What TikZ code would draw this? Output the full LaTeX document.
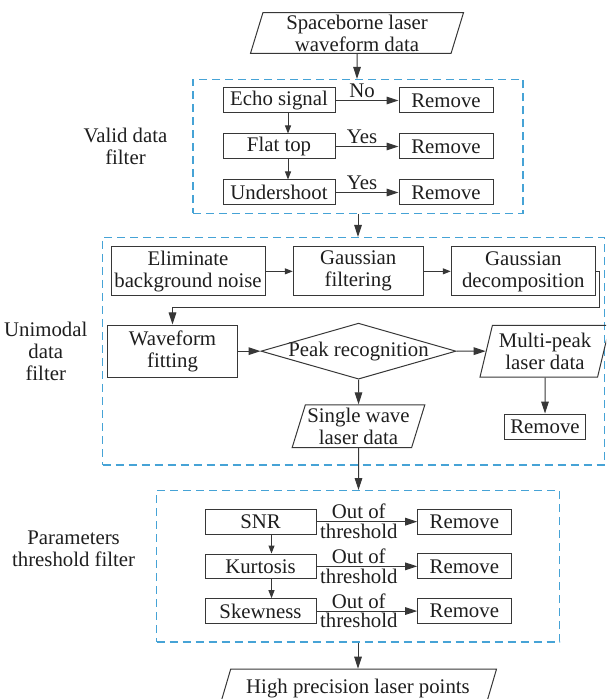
\documentclass[tikz,border=0pt]{standalone}
\usepackage{fontspec}
\setmainfont{Liberation Serif}
\usetikzlibrary{shapes.geometric, arrows.meta, positioning, fit}
\definecolor{linegray}{RGB}{55,55,55}
\definecolor{textgray}{RGB}{30,30,30}
\definecolor{frameblue}{RGB}{70,163,214}

\begin{document}
\begin{tikzpicture}[
    x=0.5pt, y=-0.5pt,
    every node/.style={font=\fontsize{10.4}{11}\selectfont, text=textgray},
    box/.style={rectangle, draw=linegray, line width=0.5pt, inner sep=0pt, align=center},
    crit/.style={box, minimum width=56pt, minimum height=12.5pt},
    rmbox/.style={box, minimum width=47pt, minimum height=12.5pt},
    dataio/.style={trapezium, trapezium left angle=#1, trapezium right angle={180-#1},
        trapezium stretches body, draw=linegray, line width=0.5pt, inner sep=1pt, align=center},
    dataio/.default=73,
    decision/.style={diamond, draw=linegray, line width=0.5pt, inner sep=0pt,
        minimum width=97.5pt, minimum height=28pt},
    frame/.style={rectangle, draw=frameblue, line width=0.6pt, dash pattern=on 4pt off 2.5pt, inner sep=0pt},
    arrow/.style={-{Triangle[length=6pt, width=3.8pt]}, draw=linegray, line width=0.5pt},
    sarrow/.style={-{Triangle[length=4pt, width=3pt]}, draw=linegray, line width=0.5pt},
    lbl/.style={inner sep=1pt}
]
    \useasboundingbox (0,0) rectangle (606,699);
    \clip (0,0) rectangle (606,699);

    % input data
    \node[dataio, minimum width=106.5pt, minimum height=20pt] (src) at (357,33) {Spaceborne laser\\waveform data};

    % valid data filter
    \node[crit] (echo) at (279,100.5) {Echo signal};
    \node[crit, below=10pt of echo] (flat) {Flat top};
    \node[crit, below=10pt of flat] (under) {Undershoot};
    \node[rmbox, right=31.5pt of echo] (rmecho) {Remove};
    \node[rmbox, right=31.5pt of flat] (rmflat) {Remove};
    \node[rmbox, right=31.5pt of under] (rmunder) {Remove};
    \node[frame, fit=(echo)(rmecho)(under)(rmunder), inner xsep=14.75pt, inner ysep=4pt] (validframe) {};
    \node[align=center, left=9pt of validframe] (validlbl) {Valid data\\filter};

    \draw[arrow] (src) -- (src |- validframe.north);
    \draw[arrow] (echo) -- node[lbl, above, pos=0.42] {No} (rmecho);
    \draw[arrow] (flat) -- node[lbl, above, pos=0.42] {Yes} (rmflat);
    \draw[arrow] (under) -- node[lbl, above, pos=0.42] {Yes} (rmunder);
    \draw[sarrow] ([xshift=4.5pt]echo.south) -- ([xshift=4.5pt]flat.north);
    \draw[sarrow] ([xshift=4.5pt]flat.south) -- ([xshift=4.5pt]under.north);

    % unimodal data filter
    \node[frame, minimum width=251pt, minimum height=113.75pt] (uniframe) at (353.5,351.25) {};
    \node[box, minimum width=77pt, minimum height=24.65pt] (elim) at (188,271.35) {Eliminate\\background noise};
    \node[box, minimum width=64.85pt, minimum height=24.65pt, right=13.65pt of elim] (gfilt) {Gaussian\\filtering};
    \node[box, minimum width=72pt, minimum height=24.65pt, right=13.65pt of gfilt] (gdec) {Gaussian\\decomposition};
    \node[box, minimum width=64.8pt, minimum height=26.15pt] (wave) at (172.5,351.15) {Waveform\\fitting};
    \node[decision, right=11.35pt of wave] (peak) {\makebox[0pt]{Peak recognition}};
    \node[dataio, minimum width=65pt, minimum height=25.85pt, right=14.6pt of peak] (multi) {Multi-peak\\laser data};
    \node[dataio=72, minimum width=64.85pt, minimum height=21.35pt, below=12.35pt of peak] (single) {Single wave\\laser data};
    \node[box, minimum width=40.8pt, minimum height=12.8pt, below=18pt of multi] (rmmulti) {Remove};
    \node[align=center, left=3.75pt of uniframe] (unilbl) {Unimodal\\data\\filter};

    \draw[arrow] (validframe.south) -- (validframe.south |- uniframe.north);
    \draw[sarrow] (elim) -- (gfilt);
    \draw[sarrow] (gfilt) -- (gdec);
    \draw[arrow] (gdec.east) -- ++(3.5,0) -- ++(0,36.4) -| (wave.north);
    \draw[arrow] (wave) -- (peak);
    \draw[arrow] (peak) -- (multi);
    \draw[arrow] (peak) -- (single);
    \draw[arrow] (multi) -- (rmmulti);

    % parameters threshold filter
    \node[box, minimum width=55.5pt, minimum height=12.35pt] (snr) at (260.5,521.65) {SNR};
    \node[box, minimum width=55.5pt, minimum height=12.35pt, below=9.5pt of snr] (kurt) {Kurtosis};
    \node[box, minimum width=55.5pt, minimum height=12.35pt, below=9.5pt of kurt] (skew) {Skewness};
    \node[rmbox, minimum width=46.65pt, right=50.35pt of snr] (rmsnr) {Remove};
    \node[rmbox, minimum width=46.65pt, right=50.35pt of kurt] (rmkurt) {Remove};
    \node[rmbox, minimum width=46.65pt, right=50.35pt of skew] (rmskew) {Remove};
    \node[frame, fit=(snr)(rmsnr)(skew)(rmskew), inner xsep=24pt, inner ysep=9pt] (paramframe) {};
    \node[align=center, left=6.85pt of paramframe, yshift=9pt] (paramlbl) {Parameters\\threshold filter};

    \draw[arrow] (single) -- (single |- paramframe.north);
    \draw[arrow] (snr) -- node[lbl, above, pos=0.42] {Out of} node[lbl, below, pos=0.42] {threshold} (rmsnr);
    \draw[arrow] (kurt) -- node[lbl, above, pos=0.42] {Out of} node[lbl, below, pos=0.42] {threshold} (rmkurt);
    \draw[arrow] (skew) -- node[lbl, above, pos=0.42] {Out of} node[lbl, below, pos=0.42] {threshold} (rmskew);
    \draw[sarrow] ([xshift=5.5pt]snr.south) -- ([xshift=5.5pt]kurt.north);
    \draw[sarrow] ([xshift=5.5pt]kurt.south) -- ([xshift=5.5pt]skew.north);

    % output
    \node[dataio=64, minimum width=138.5pt, minimum height=19pt, below=13pt of paramframe] (hp) {High precision laser points};
    \draw[arrow] (paramframe.south) -- (paramframe.south |- hp.north);
\end{tikzpicture}
\end{document}
